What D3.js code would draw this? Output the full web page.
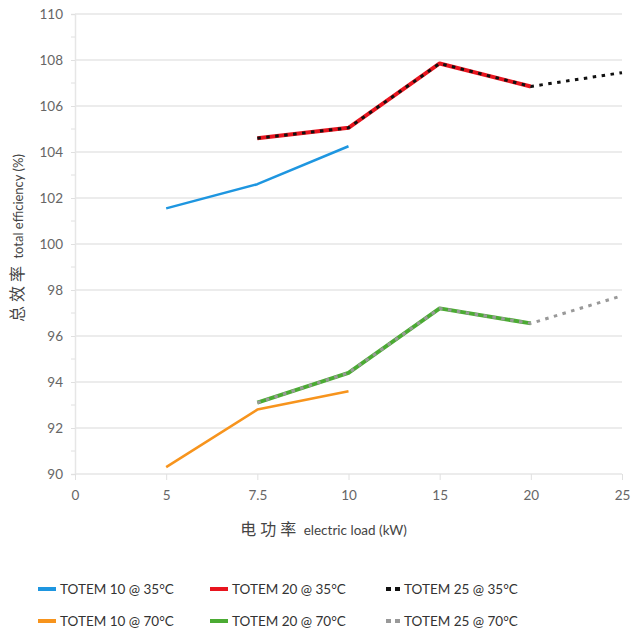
<!DOCTYPE html>
<html>
<head>
<meta charset="utf-8">
<script src="https://cdn.jsdelivr.net/npm/d3@7"></script>
<style>
  body { margin: 0; background: #fff; }
  #chart { width: 635px; height: 636px; }
  text { font-family: Lato, "Noto Sans", sans-serif; }
</style>
</head>
<body>
<div id="chart"></div>
<script>
// categories on the x axis (evenly spaced)
const loads = ["0", "5", "7.5", "10", "15", "20", "25"];

// series values, [load, efficiency]
const totem10_35 = [["5", 101.55], ["7.5", 102.6], ["10", 104.25]];
const totem20_35 = [["7.5", 104.6], ["10", 105.05], ["15", 107.85], ["20", 106.85]];
const totem25_35 = [["7.5", 104.6], ["10", 105.05], ["15", 107.85], ["20", 106.85], ["25", 107.45]];
const totem10_70 = [["5", 90.3], ["7.5", 92.8], ["10", 93.6]];
const totem20_70 = [["7.5", 93.1], ["10", 94.4], ["15", 97.2], ["20", 96.55]];
const totem25_70 = [["7.5", 93.1], ["10", 94.4], ["15", 97.2], ["20", 96.55], ["25", 97.75]];

const yTicks = [90, 92, 94, 96, 98, 100, 102, 104, 106, 108, 110];
const yMinor = [91, 93, 95, 97, 99, 101, 103, 105, 107, 109];

const series = [
    {name: "TOTEM 10 @ 35°C", data: totem10_35, color: "#1e96e0", dotted: false},
    {name: "TOTEM 10 @ 70°C", data: totem10_70, color: "#f7941d", dotted: false},
    {name: "TOTEM 20 @ 35°C", data: totem20_35, color: "#e8141e", dotted: false},
    {name: "TOTEM 20 @ 70°C", data: totem20_70, color: "#4bab33", dotted: false},
    {name: "TOTEM 25 @ 35°C", data: totem25_35, color: "#111111", dotted: true},
    {name: "TOTEM 25 @ 70°C", data: totem25_70, color: "#999999", dotted: true}
];

const margin = {top: 14, right: 13, bottom: 162, left: 75};
const W = 635, H = 636;
const width = W - margin.left - margin.right;
const height = H - margin.top - margin.bottom;

const svgRoot = d3.select("#chart").append("svg")
    .attr("width", W)
    .attr("height", H);

const svg = svgRoot.append("g")
    .attr("transform", `translate(${margin.left},${margin.top})`);

const x = d3.scalePoint().domain(loads).range([0, width]);
const y = d3.scaleLinear().domain([90, 110]).range([height, 0]);

// gridlines
svg.append("g")
    .selectAll("line")
    .data(yTicks)
    .join("line")
    .attr("x1", 0).attr("x2", width)
    .attr("y1", d => y(d)).attr("y2", d => y(d))
    .attr("stroke", "#e6e6e6")
    .attr("stroke-width", 1.5);

// y axis
const yAxis = svg.append("g")
    .call(d3.axisLeft(y).tickValues(yTicks).tickSize(4).tickPadding(8));
yAxis.select(".domain").attr("stroke", "#e6e6e6").attr("stroke-width", 1.5);
yAxis.selectAll(".tick line").attr("stroke", "#e0e0e0");
yAxis.selectAll(".tick text").attr("fill", "#666").style("font-size", "13.5px");

svg.append("g")
    .selectAll("line")
    .data(yMinor)
    .join("line")
    .attr("x1", -4).attr("x2", 0)
    .attr("y1", d => y(d)).attr("y2", d => y(d))
    .attr("stroke", "#e0e0e0");

// x axis
const xAxis = svg.append("g")
    .attr("transform", `translate(0,${height})`)
    .call(d3.axisBottom(x).tickSize(6).tickPadding(10));
xAxis.select(".domain").remove();
xAxis.selectAll(".tick line").attr("stroke", "#e0e0e0");
xAxis.selectAll(".tick text").attr("fill", "#666").style("font-size", "13.5px");

// lines
const line = d3.line()
    .x(d => x(d[0]))
    .y(d => y(d[1]));

svg.append("g")
    .selectAll("path")
    .data(series)
    .join("path")
    .attr("d", d => line(d.data))
    .attr("fill", "none")
    .attr("stroke", d => d.color)
    .attr("stroke-width", d => d.dotted ? 3 : (d.name.includes("20") ? 4 : 2.5))
    .attr("stroke-dasharray", d => d.dotted ? "3.5,5.5" : null)
    .attr("stroke-linejoin", "round");

// axis titles
svgRoot.append("text")
    .attr("transform", `translate(23,${margin.top + height / 2 - 6}) rotate(-90)`)
    .attr("text-anchor", "middle")
    .attr("fill", "#444")
    .style("font-size", "13px")
    .html('<tspan style="font-family:\'Noto Sans CJK SC\';font-size:16px;letter-spacing:4px">总效率</tspan> total efficiency (%)');

svgRoot.append("text")
    .attr("x", margin.left + width / 2 - 25)
    .attr("y", 535)
    .attr("text-anchor", "middle")
    .attr("fill", "#444")
    .style("font-size", "13.5px")
    .html('<tspan style="font-family:\'Noto Sans CJK SC\';font-size:16px;letter-spacing:4px">电功率</tspan> electric load (kW)');

// legend
const legendOrder = [0, 2, 4, 1, 3, 5];
const legend = svgRoot.append("g");
const items = legend.selectAll("g")
    .data(legendOrder.map(i => series[i]))
    .join("g")
    .attr("transform", (d, i) => `translate(${38 + (i % 3) * 172},${589 + Math.floor(i / 3) * 32})`);

items.append("line")
    .attr("x1", d => d.dotted ? 4 : 0).attr("x2", 18)
    .attr("stroke", d => d.color)
    .attr("stroke-width", 4)
    .attr("stroke-dasharray", d => d.dotted ? "5,4" : null);

items.append("text")
    .attr("x", 22)
    .attr("dy", "0.35em")
    .attr("fill", "#333")
    .style("font-size", "13.5px")
    .text(d => d.name);
</script>
</body>
</html>
